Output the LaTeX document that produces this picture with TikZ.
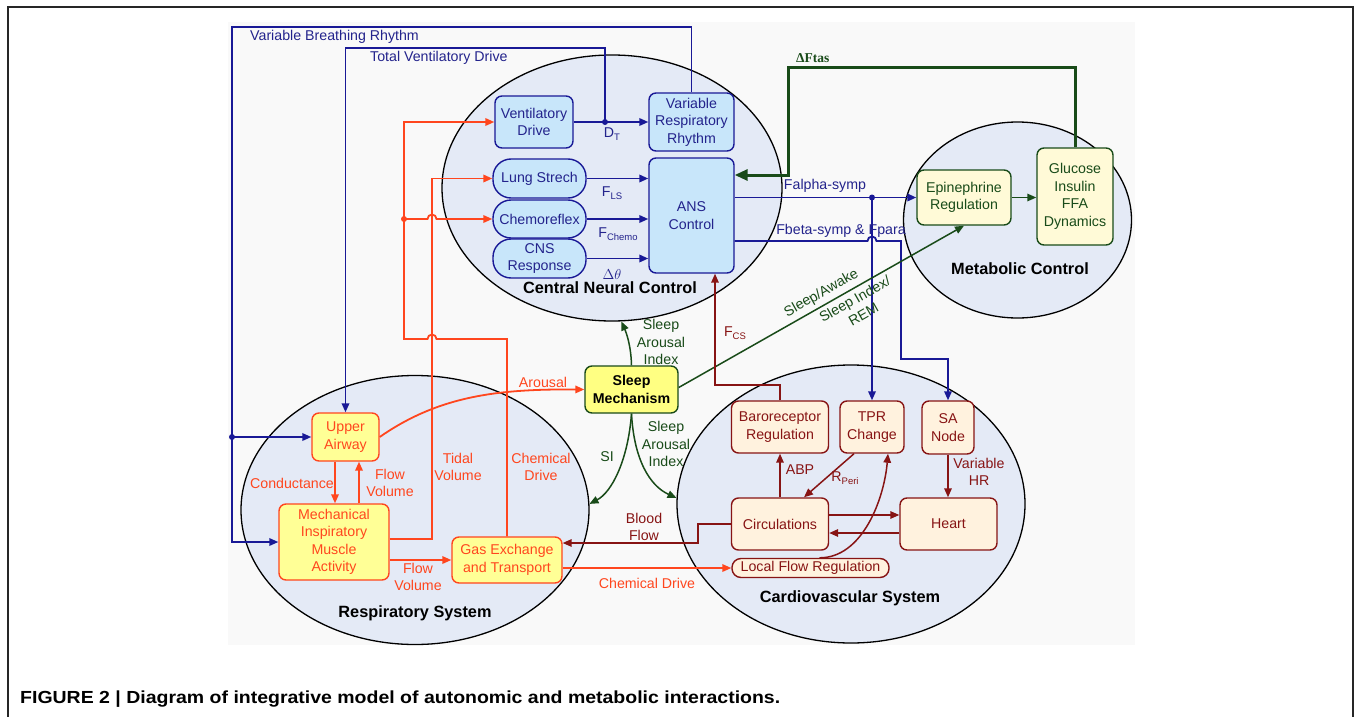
\documentclass[tikz,border=0pt]{standalone}
\usepackage{fontspec}
\setmainfont{Liberation Sans}
\newfontfamily\serifb{Liberation Serif}
\usetikzlibrary{arrows.meta,shapes.geometric,calc}
\definecolor{navy}{RGB}{35,35,140}
\definecolor{navyline}{RGB}{25,25,150}
\definecolor{cnsfill}{RGB}{200,230,250}
\definecolor{ellfill}{RGB}{228,234,246}
\definecolor{rred}{RGB}{255,70,30}
\definecolor{respfill}{RGB}{255,255,150}
\definecolor{dgreen}{RGB}{25,75,25}
\definecolor{metafill}{RGB}{255,250,215}
\definecolor{cardfill}{RGB}{255,242,222}
\definecolor{dred}{RGB}{135,20,20}
\definecolor{sleepfill}{RGB}{255,255,130}
\definecolor{bggray}{RGB}{249,249,249}
\newcommand\mysub[1]{\raisebox{-0.45ex}{\fontsize{9.5}{10}\selectfont #1}}
\begin{document}
\begin{tikzpicture}[x=1pt,y=-1pt,
  font=\fontsize{14.2}{17.5}\selectfont,
  >={Triangle[length=9pt,width=7.5pt]},
  bigell/.style={ellipse, draw=black, line width=1.3pt, fill=ellfill, inner sep=0pt},
  box/.style={rounded corners=7pt, line width=1.4pt, align=center, inner sep=0pt},
  cnsbox/.style={box, draw=navyline, fill=cnsfill, text=navy},
  pill/.style={cnsbox, rounded corners=18pt},
  respbox/.style={box, draw=rred, fill=respfill, text=rred},
  metabox/.style={box, draw=dgreen, fill=metafill, text=dgreen},
  cardbox/.style={box, draw=dred, fill=cardfill, text=dred},
  sleepbox/.style={box, draw=dgreen, fill=sleepfill, text=black, font=\bfseries\fontsize{14.2}{17.5}\selectfont},
  bline/.style={navyline, line width=1.8pt},
  rline/.style={rred, line width=1.8pt},
  gline/.style={dgreen, line width=1.5pt},
  dline/.style={dred, line width=1.5pt},
  lab/.style={align=center, inner sep=0pt},
  syslab/.style={inner sep=0pt, font=\bfseries\fontsize{16.3}{18}\selectfont},
  dot/.style={circle, fill, inner sep=0pt, minimum size=6pt}]
\useasboundingbox (0,0) rectangle (1357,717);
\draw[black!85, line width=1.2pt] (8,730) -- (8,7) -- (1353,7) -- (1353,730);
\fill[bggray] (228,22) rectangle (1135,645);

% system ellipses
\node[bigell, minimum width=340pt, minimum height=266pt] (cnc) at (612,188) {};
\node[bigell, minimum width=348pt, minimum height=269pt] (resp) at (415,510) {};
\node[bigell, minimum width=348pt, minimum height=278pt] (cardio) at (851,504) {};
\node[bigell, minimum width=228pt, minimum height=196pt] (meta) at (1017.5,220) {};
\node[syslab] (cnclab) at (610,288) {Central Neural Control};
\node[syslab] (resplab) at (415,613) {Respiratory System};
\node[syslab] (cardlab) at (850,598) {Cardiovascular System};
\node[syslab] (metalab) at (1020,269) {Metabolic Control};

% central neural control boxes
\node[cnsbox, minimum width=78pt, minimum height=52pt] (vd) at (534,122) {Ventilatory\\Drive};
\node[cnsbox, minimum width=85pt, minimum height=58pt] (vrr) at (691.5,122) {Variable\\Respiratory\\Rhythm};
\node[cnsbox, minimum width=85pt, minimum height=115pt] (ans) at (691.5,215.5) {ANS\\Control};
\node[pill, minimum width=93pt, minimum height=39pt] (ls) at (539.5,178.5) {Lung Strech};
\node[pill, minimum width=93pt, minimum height=38pt] (chemo) at (539.5,219) {Chemoreflex};
\node[pill, minimum width=93pt, minimum height=39pt] (cns) at (539.5,258.5) {CNS\\Response};

% metabolic boxes
\node[metabox, minimum width=94pt, minimum height=55pt] (epi) at (964,197.5) {Epinephrine\\Regulation};
\node[metabox, minimum width=76pt, minimum height=97pt] (glu) at (1075,196.5) {Glucose\\Insulin\\FFA\\Dynamics};

% respiratory boxes
\node[respbox, minimum width=67pt, minimum height=48pt] (ua) at (345.5,437) {Upper\\Airway};
\node[respbox, minimum width=110pt, minimum height=76pt] (mima) at (334,542) {Mechanical\\Inspiratory\\Muscle\\Activity};
\node[respbox, minimum width=110pt, minimum height=46pt] (gas) at (507,560) {Gas Exchange\\and Transport};
\node[sleepbox, minimum width=93pt, minimum height=47pt] (sleep) at (631.5,389.5) {Sleep\\Mechanism};

% cardiovascular boxes
\node[cardbox, minimum width=97pt, minimum height=52pt] (baro) at (780,427) {Baroreceptor\\Regulation};
\node[cardbox, minimum width=64pt, minimum height=52pt] (tpr) at (872,427) {TPR\\Change};
\node[cardbox, minimum width=52pt, minimum height=53pt] (sa) at (948,427.5) {SA\\Node};
\node[cardbox, minimum width=97pt, minimum height=52pt] (circ) at (780,524) {Circulations};
\node[cardbox, minimum width=97pt, minimum height=52pt] (heart) at (948.5,524) {Heart};
\node[cardbox, rounded corners=9pt, minimum width=157pt, minimum height=19pt] (lfr) at (810.5,568) {Local Flow Regulation};

% ---- blue connectors
\coordinate (vbrc) at (232,27);
\coordinate (vbrd) at (232,437);
\draw[bline,->] (vrr.north) |- (vbrc) |- (mima.west);
\draw[bline,->] (vbrd) -- (ua.west);
\node[dot, navyline] (vbrdot) at (vbrd) {};
\node[lab, text=navy, anchor=west] (vbrlab) at (250,37) {Variable Breathing Rhythm};

\coordinate (dt) at (605,122);
\coordinate (tvdc) at (ua.north |- 0,48);
\draw[bline,->] (vd.east) -- (vrr.west);
\draw[bline,->] (dt) |- (tvdc) -- (ua.north);
\node[dot, navyline] (dtdot) at (dt) {};
\node[lab, text=navy, anchor=west] (tvdlab) at (370,58) {Total Ventilatory Drive};
\node[lab, text=navy] (dtlab) at (612,134) {D\mysub{T}};

\draw[bline,->] (ls.east) -- (ls.east -| ans.west);
\draw[bline,->] (chemo.east) -- (chemo.east -| ans.west);
\draw[bline,->] (cns.east) -- (cns.east -| ans.west);
\node[lab, text=navy] (flslab) at (612,193) {F\mysub{LS}};
\node[lab, text=navy] (fchlab) at (618,234) {F\mysub{Chemo}};
\node[lab, text=navy] (dthlab) at (612,274) {$\Delta\theta$};

\coordinate (fad) at (872,197.5);
\draw[bline,->] (ans.east |- fad) -- (epi.west);
\draw[bline,->] (fad) -- (tpr.north);
\node[dot, navyline] (fadot) at (fad) {};
\node[lab, text=navy] (falab) at (825,186) {Falpha-symp};

\coordinate (fb1) at (901,241);
\coordinate (fb2) at (901,359);
\draw[bline,->] (ans.east |- fb1) -- (867.5,241) arc[start angle=180,end angle=0,radius=4.5pt] -- (fb1) -- (fb2) -- (sa.north |- fb2) -- (sa.north);
\node[lab, text=navy] (fblab) at (841,231) {Fbeta-symp \& Fpara};

% ---- green connectors
\coordinate (ft1) at (788,68);
\coordinate (ft2) at (788,175);
\draw[dgreen, line width=3pt, -{Triangle[length=13pt,width=11pt]}] (glu.north) |- (ft1) -- (ft2) -- (ft2 -| ans.east);
\node[lab, text=dgreen, anchor=west, font=\serifb\bfseries\fontsize{13.5}{15}\selectfont] (ftlab) at (796,58) {ΔFtas};
\draw[gline,->] (epi.east) -- (epi.east -| glu.west);

\draw[gline,->] (sleep.north) .. controls (631,345) and (626,332) .. (cnc.274);
\node[lab, text=dgreen] (sai1) at (661,342) {Sleep\\Arousal\\Index};
\draw[gline,->] (sleep.south) .. controls (628,460) and (612,492) .. (resp.2);
\node[lab, text=dgreen] (silab) at (607,457) {SI};
\draw[gline,->] (sleep.south) .. controls (634,460) and (650,486) .. (cardio.178);
\node[lab, text=dgreen] (sai2) at (666,444) {Sleep\\Arousal\\Index};
\coordinate (sleepe) at ($(sleep.east)+(0,-2)$);
\draw[gline,->] (sleepe) -- node[pos=0.52, sloped, above=4pt, text=dgreen, inner sep=0pt] (salab) {Sleep/Awake}
  node[pos=0.6, sloped, below=4pt, align=center, text=dgreen, inner sep=0pt] (silab2) {Sleep Index/\\REM} (epi.south);

% ---- red (respiratory) connectors
\coordinate (tv1) at (432,539);
\coordinate (tv2) at (432,178.5);
\draw[rline,->] (mima.east |- tv1) -- (tv1) -- (tv2) -- (ls.west);
\coordinate (cd1) at (507,339);
\coordinate (cd2) at (404,339);
\coordinate (cdd) at (404,219);
\draw[rline,->] (gas.north) -- (cd1) -- (436.5,339) arc[start angle=0,end angle=180,radius=4.5pt] -- (cd2) |- (vd.west);
\draw[rline,->] (cdd) -- (427.5,219) arc[start angle=180,end angle=0,radius=4.5pt] -- (chemo.west);
\node[dot, rred] (cddot) at (cdd) {};

\coordinate (cc1) at ($(ua.south)+(-10.5,0)$);
\coordinate (fv1) at ($(ua.south)+(13.5,0)$);
\draw[rline,->] (cc1) -- (cc1 |- mima.north);
\draw[rline,->] (fv1 |- mima.north) -- (fv1);
\draw[rline,->] (mima.east |- gas.west) -- (gas.west);
\draw[rline,->] (ua.east) .. controls (440,395) and (500,389) .. (sleep.west);
\draw[rline,->] (gas.east |- lfr.west) -- (lfr.west);

\node[lab, text=rred] (condlab) at (292,483) {Conductance};
\node[lab, text=rred] (fvlab1) at (390,483) {Flow\\Volume};
\node[lab, text=rred] (tvlab) at (458,467) {Tidal\\Volume};
\node[lab, text=rred] (cdlab1) at (541,467) {Chemical\\Drive};
\node[lab, text=rred] (fvlab2) at (418,577) {Flow\\Volume};
\node[lab, text=rred] (arlab) at (543,382) {Arousal};
\node[lab, text=rred] (cdlab2) at (647,583) {Chemical Drive};

% ---- dark red (cardiovascular) connectors
\coordinate (fcs) at (715,385);
\draw[dline,->] (baro.north) |- (fcs) -- (fcs |- ans.south);
\node[lab, text=dred] (fcslab) at (735,333) {F\mysub{CS}};
\draw[dline,->] (circ.north) -- (baro.south);
\node[lab, text=dred] (abplab) at (800,470) {ABP};
\coordinate (tprsw) at ($(tpr.south)+(-18,0)$);
\coordinate (circne) at ($(circ.north)+(24,0)$);
\draw[dline,->] (tprsw) -- (circne);
\node[lab, text=dred] (rplab) at (845,478) {R\mysub{Peri}};
\coordinate (lfrn) at ($(lfr.north)+(9,0)$);
\coordinate (tprse) at ($(tpr.south)+(16,0)$);
\draw[dline,->] (lfrn) .. controls (862,558) and (884,500) .. (tprse);
\coordinate (ch1) at ($(circ.east)+(0,-9)$);
\coordinate (ch2) at ($(circ.east)+(0,9)$);
\draw[dline,->] (ch1) -- (ch1 -| heart.west);
\draw[dline,->] (ch2 -| heart.west) -- (ch2);
\draw[dline,->] (sa.south) -- (sa.south |- heart.north);
\node[lab, text=dred] (hrlab) at (979,472) {Variable\\HR};
\coordinate (bf1) at (698,524);
\coordinate (bf2) at (698,543);
\draw[dline,->] (circ.west) -- (bf1) -- (bf2) -- (bf2 -| gas.east);
\node[lab, text=dred] (bflab) at (644,527) {Blood\\Flow};

% caption
\node[anchor=base west, inner sep=0pt] (cap) at (20,703) {\resizebox{760pt}{\height}{\bfseries\fontsize{17.5}{20}\selectfont FIGURE 2 | Diagram of integrative model of autonomic and metabolic interactions.}};
\end{tikzpicture}
\end{document}
